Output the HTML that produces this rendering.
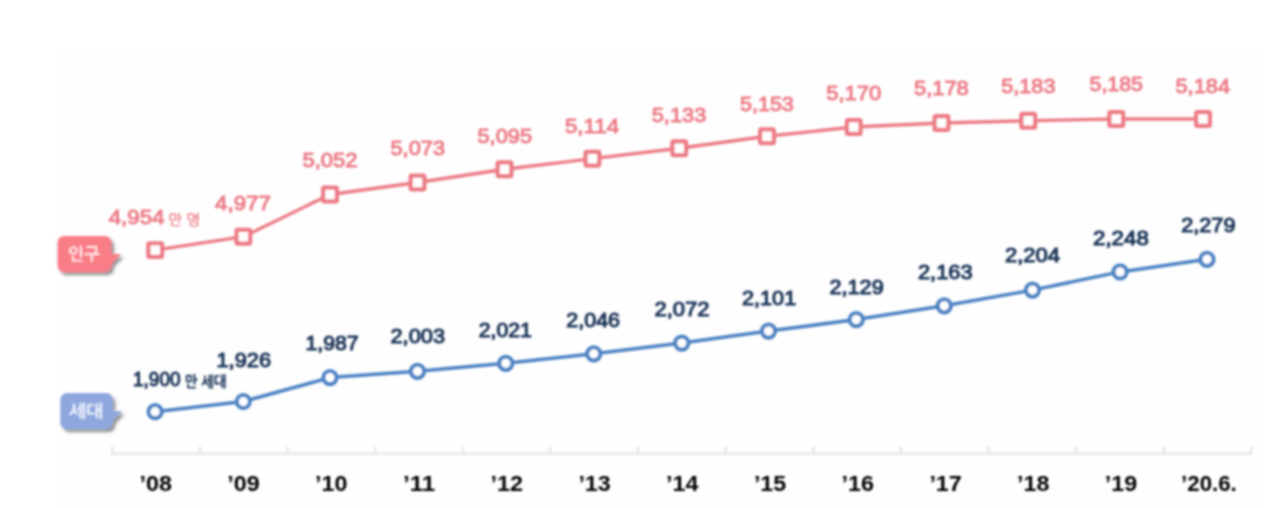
<!DOCTYPE html>
<html lang="ko"><head><meta charset="utf-8"><title>인구 및 세대 추이</title>
<style>
html,body{margin:0;padding:0;background:#fff;}
body{width:1280px;height:508px;overflow:hidden;font-family:"Liberation Sans","NanumGothic","Noto Sans CJK KR",sans-serif;}
svg{display:block;}
.rl{fill:#ec7c87;font-size:20.5px;font-weight:400;stroke:#ec7c87;stroke-width:.95px;}
.bl{fill:#1d3558;font-size:20.6px;font-weight:400;stroke:#1d3558;stroke-width:1.05px;}
.ax{fill:#000;font-size:21.5px;font-weight:700;}
.tag{font-size:17px;font-weight:700;text-anchor:middle;font-family:"Liberation Sans","NanumGothic","Noto Sans CJK KR",sans-serif;}
.unit{font-size:13px;font-family:"Liberation Sans","NanumGothic","Noto Sans CJK KR",sans-serif;}
</style></head><body>
<svg width="1280" height="508" viewBox="0 0 1280 508">
<defs>
<filter id="b" x="-5%" y="-5%" width="110%" height="110%"><feGaussianBlur stdDeviation="0.95"/></filter>
<filter id="sh" x="-20%" y="-20%" width="150%" height="160%"><feGaussianBlur stdDeviation="1.6"/></filter>
</defs>
<rect width="1280" height="508" fill="#fff"/>
<rect x="55" y="48" width="1203" height="460" fill="#fefefe"/>
<g filter="url(#b)">

<g stroke="#e2e2e2" stroke-width="2" fill="none">
<path d="M112.25 453.5H1251.5"/>
<path d="M112.25 446.5V454.5"/>
<path d="M199.88 446.5V454.5"/>
<path d="M287.52 446.5V454.5"/>
<path d="M375.15 446.5V454.5"/>
<path d="M462.79 446.5V454.5"/>
<path d="M550.42 446.5V454.5"/>
<path d="M638.06 446.5V454.5"/>
<path d="M725.69 446.5V454.5"/>
<path d="M813.33 446.5V454.5"/>
<path d="M900.96 446.5V454.5"/>
<path d="M988.60 446.5V454.5"/>
<path d="M1076.23 446.5V454.5"/>
<path d="M1163.87 446.5V454.5"/>
<path d="M1251.50 446.5V454.5"/>
</g>
<g class="ax">
<text x="139.6" y="491.3" textLength="32.4" lengthAdjust="spacingAndGlyphs">’08</text>
<text x="227.3" y="491.3" textLength="32.4" lengthAdjust="spacingAndGlyphs">’09</text>
<text x="315.1" y="491.3" textLength="32.4" lengthAdjust="spacingAndGlyphs">’10</text>
<text x="402.9" y="491.3" textLength="32.4" lengthAdjust="spacingAndGlyphs">’11</text>
<text x="490.6" y="491.3" textLength="32.4" lengthAdjust="spacingAndGlyphs">’12</text>
<text x="578.4" y="491.3" textLength="32.4" lengthAdjust="spacingAndGlyphs">’13</text>
<text x="666.1" y="491.3" textLength="32.4" lengthAdjust="spacingAndGlyphs">’14</text>
<text x="753.9" y="491.3" textLength="32.4" lengthAdjust="spacingAndGlyphs">’15</text>
<text x="841.6" y="491.3" textLength="32.4" lengthAdjust="spacingAndGlyphs">’16</text>
<text x="929.4" y="491.3" textLength="32.4" lengthAdjust="spacingAndGlyphs">’17</text>
<text x="1017.1" y="491.3" textLength="32.4" lengthAdjust="spacingAndGlyphs">’18</text>
<text x="1104.8" y="491.3" textLength="32.4" lengthAdjust="spacingAndGlyphs">’19</text>
<text x="1181.1" y="491.3" textLength="55.6" lengthAdjust="spacingAndGlyphs">’20.6.</text>
</g>
<g transform="translate(2.5,3)" fill="#4a4a4a" opacity=".62" filter="url(#sh)"><rect x="57.5" y="236" width="54.0" height="36" rx="6.5" ry="6.5"/><path d="M109.5 254L121.0 254.0L109.5 266Z"/></g><g fill="#f97d87"><rect x="57.5" y="236" width="54.0" height="36" rx="6.5" ry="6.5"/><path d="M109.5 254L121.0 254.0L109.5 266Z"/></g><text class="tag" fill="#ffe9eb" x="84.00" y="260">인구</text>
<g transform="translate(2.5,3)" fill="#4a4a4a" opacity=".62" filter="url(#sh)"><rect x="60.3" y="393" width="52.400000000000006" height="36" rx="6.5" ry="6.5"/><path d="M110.7 411L122.2 411.0L110.7 423Z"/></g><g fill="#8ea7de"><rect x="60.3" y="393" width="52.400000000000006" height="36" rx="6.5" ry="6.5"/><path d="M110.7 411L122.2 411.0L110.7 423Z"/></g><text class="tag" fill="#f1f4fd" x="86.00" y="417.3" textLength="34.2" lengthAdjust="spacingAndGlyphs">세대</text>
<path d="M155.2 250.1L243.3 236.7L330 194.5L417.5 182.5L504.5 169.25L592.4 158.7L679.25 148.25L767 136.25L853.75 127L941.5 123L1028.25 120.75L1116.25 119L1203 119" fill="none" stroke="#ec7a85" stroke-width="3.3" stroke-linejoin="round"/>
<rect x="148.35" y="243.25" width="13.7" height="13.7" rx="1.2" fill="#fff" stroke="#ec7a85" stroke-width="4.2"/>
<rect x="236.45" y="229.85" width="13.7" height="13.7" rx="1.2" fill="#fff" stroke="#ec7a85" stroke-width="4.2"/>
<rect x="323.15" y="187.65" width="13.7" height="13.7" rx="1.2" fill="#fff" stroke="#ec7a85" stroke-width="4.2"/>
<rect x="410.65" y="175.65" width="13.7" height="13.7" rx="1.2" fill="#fff" stroke="#ec7a85" stroke-width="4.2"/>
<rect x="497.65" y="162.40" width="13.7" height="13.7" rx="1.2" fill="#fff" stroke="#ec7a85" stroke-width="4.2"/>
<rect x="585.55" y="151.85" width="13.7" height="13.7" rx="1.2" fill="#fff" stroke="#ec7a85" stroke-width="4.2"/>
<rect x="672.40" y="141.40" width="13.7" height="13.7" rx="1.2" fill="#fff" stroke="#ec7a85" stroke-width="4.2"/>
<rect x="760.15" y="129.40" width="13.7" height="13.7" rx="1.2" fill="#fff" stroke="#ec7a85" stroke-width="4.2"/>
<rect x="846.90" y="120.15" width="13.7" height="13.7" rx="1.2" fill="#fff" stroke="#ec7a85" stroke-width="4.2"/>
<rect x="934.65" y="116.15" width="13.7" height="13.7" rx="1.2" fill="#fff" stroke="#ec7a85" stroke-width="4.2"/>
<rect x="1021.40" y="113.90" width="13.7" height="13.7" rx="1.2" fill="#fff" stroke="#ec7a85" stroke-width="4.2"/>
<rect x="1109.40" y="112.15" width="13.7" height="13.7" rx="1.2" fill="#fff" stroke="#ec7a85" stroke-width="4.2"/>
<rect x="1196.15" y="112.15" width="13.7" height="13.7" rx="1.2" fill="#fff" stroke="#ec7a85" stroke-width="4.2"/>
<path d="M155.1 411.70000000000005L243.3 401.5L330 377.6L417.5 371.35L505.75 363.35L593.75 353.85L681.75 343.1L768.5 331.1L856.25 319.6L944.25 305.85L1032.5 290.1L1120.1 271.90000000000003L1207 259.3" fill="none" stroke="#4b82c3" stroke-width="3.5" stroke-linejoin="round"/>
<circle cx="155.1" cy="411.70000000000005" r="6.6" fill="#fff" stroke="#4b82c3" stroke-width="4"/>
<circle cx="243.3" cy="401.5" r="6.6" fill="#fff" stroke="#4b82c3" stroke-width="4"/>
<circle cx="330" cy="377.6" r="6.6" fill="#fff" stroke="#4b82c3" stroke-width="4"/>
<circle cx="417.5" cy="371.35" r="6.6" fill="#fff" stroke="#4b82c3" stroke-width="4"/>
<circle cx="505.75" cy="363.35" r="6.6" fill="#fff" stroke="#4b82c3" stroke-width="4"/>
<circle cx="593.75" cy="353.85" r="6.6" fill="#fff" stroke="#4b82c3" stroke-width="4"/>
<circle cx="681.75" cy="343.1" r="6.6" fill="#fff" stroke="#4b82c3" stroke-width="4"/>
<circle cx="768.5" cy="331.1" r="6.6" fill="#fff" stroke="#4b82c3" stroke-width="4"/>
<circle cx="856.25" cy="319.6" r="6.6" fill="#fff" stroke="#4b82c3" stroke-width="4"/>
<circle cx="944.25" cy="305.85" r="6.6" fill="#fff" stroke="#4b82c3" stroke-width="4"/>
<circle cx="1032.5" cy="290.1" r="6.6" fill="#fff" stroke="#4b82c3" stroke-width="4"/>
<circle cx="1120.1" cy="271.90000000000003" r="6.6" fill="#fff" stroke="#4b82c3" stroke-width="4"/>
<circle cx="1207" cy="259.3" r="6.6" fill="#fff" stroke="#4b82c3" stroke-width="4"/>
<text class="rl" x="108.7" y="223.70" textLength="55.9" lengthAdjust="spacingAndGlyphs">4,954</text>
<text class="rl" x="215" y="210.40" textLength="56.0" lengthAdjust="spacingAndGlyphs">4,977</text>
<text class="rl" x="302.5" y="167.20" textLength="55.0" lengthAdjust="spacingAndGlyphs">5,052</text>
<text class="rl" x="390.5" y="155.20" textLength="54.5" lengthAdjust="spacingAndGlyphs">5,073</text>
<text class="rl" x="477.5" y="143.45" textLength="54.5" lengthAdjust="spacingAndGlyphs">5,095</text>
<text class="rl" x="565" y="132.70" textLength="54.0" lengthAdjust="spacingAndGlyphs">5,114</text>
<text class="rl" x="651.75" y="121.70" textLength="54.5" lengthAdjust="spacingAndGlyphs">5,133</text>
<text class="rl" x="740" y="110.95" textLength="53.8" lengthAdjust="spacingAndGlyphs">5,153</text>
<text class="rl" x="826.25" y="100.45" textLength="55.0" lengthAdjust="spacingAndGlyphs">5,170</text>
<text class="rl" x="914" y="95.45" textLength="54.8" lengthAdjust="spacingAndGlyphs">5,178</text>
<text class="rl" x="1001.25" y="93.45" textLength="54.2" lengthAdjust="spacingAndGlyphs">5,183</text>
<text class="rl" x="1089.5" y="90.95" textLength="53.5" lengthAdjust="spacingAndGlyphs">5,185</text>
<text class="rl" x="1175.5" y="92.70" textLength="54.5" lengthAdjust="spacingAndGlyphs">5,184</text>
<text class="rl unit" x="168" y="225" style="stroke-width:.4px;font-size:14.5px" textLength="32" lengthAdjust="spacingAndGlyphs">만 명</text>
<text class="bl" x="133" y="385.65" textLength="47.5" lengthAdjust="spacingAndGlyphs">1,900</text>
<text class="bl" x="216.5" y="367.45" textLength="54.5" lengthAdjust="spacingAndGlyphs">1,926</text>
<text class="bl" x="305.5" y="350.30" textLength="53.2" lengthAdjust="spacingAndGlyphs">1,987</text>
<text class="bl" x="390.5" y="343.30" textLength="54.5" lengthAdjust="spacingAndGlyphs">2,003</text>
<text class="bl" x="478.75" y="336.55" textLength="53.2" lengthAdjust="spacingAndGlyphs">2,021</text>
<text class="bl" x="566.25" y="326.55" textLength="53.8" lengthAdjust="spacingAndGlyphs">2,046</text>
<text class="bl" x="654.5" y="315.80" textLength="55.0" lengthAdjust="spacingAndGlyphs">2,072</text>
<text class="bl" x="742" y="305.05" textLength="54.2" lengthAdjust="spacingAndGlyphs">2,101</text>
<text class="bl" x="829.5" y="293.80" textLength="54.2" lengthAdjust="spacingAndGlyphs">2,129</text>
<text class="bl" x="918" y="279.05" textLength="54.5" lengthAdjust="spacingAndGlyphs">2,163</text>
<text class="bl" x="1005" y="262.05" textLength="55.0" lengthAdjust="spacingAndGlyphs">2,204</text>
<text class="bl" x="1093" y="244.95" textLength="55.8" lengthAdjust="spacingAndGlyphs">2,248</text>
<text class="bl" x="1181.25" y="232.05" textLength="54.2" lengthAdjust="spacingAndGlyphs">2,279</text>
<text class="bl unit" x="184.8" y="386.6" style="stroke-width:.3px;font-weight:700;font-size:15px" textLength="41.6" lengthAdjust="spacingAndGlyphs">만 세대</text>
</g></svg></body></html>
